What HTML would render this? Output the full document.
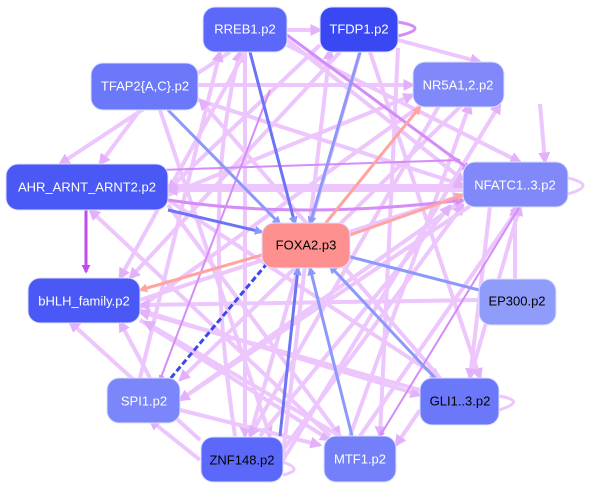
<!DOCTYPE html>
<html><head><meta charset="utf-8"><style>
body{margin:0;background:#fff}
svg{display:block}
text{font-family:"Liberation Sans",sans-serif;font-size:13px;text-anchor:middle;dominant-baseline:central}
</style></head><body>
<svg width="600" height="489" viewBox="0 0 600 489" xmlns="http://www.w3.org/2000/svg">
<defs>
<marker id="a" viewBox="0 0 10 10" refX="8" refY="5" markerWidth="3" markerHeight="3" orient="auto"><path d="M0,0L10,5L0,10z" fill="#e3b0fa"/></marker>
<marker id="b" viewBox="0 0 10 10" refX="8" refY="5" markerWidth="3" markerHeight="3" orient="auto"><path d="M0,0L10,5L0,10z" fill="#d68cf8"/></marker>
<marker id="c" viewBox="0 0 10 10" refX="8" refY="5" markerWidth="3" markerHeight="3" orient="auto"><path d="M0,0L10,5L0,10z" fill="#8d98fb"/></marker>
<marker id="d" viewBox="0 0 10 10" refX="8" refY="5" markerWidth="3" markerHeight="3" orient="auto"><path d="M0,0L10,5L0,10z" fill="#ffa4a0"/></marker>
<marker id="e" viewBox="0 0 10 10" refX="8" refY="5" markerWidth="3" markerHeight="3" orient="auto"><path d="M0,0L10,5L0,10z" fill="#3a48f0"/></marker>
<marker id="f" viewBox="0 0 10 10" refX="8" refY="5" markerWidth="3" markerHeight="3" orient="auto"><path d="M0,0L10,5L0,10z" fill="#c04af5"/></marker>
</defs>
<g fill="none" stroke-width="4" stroke="#ecc6fc" marker-end="url(#a)">
<path d="M245,52 L245,436"/><path d="M235,436 Q200,200 240,52"/>
<path d="M287,30 L320,30"/><path d="M360,52 L250,436"/>
<path d="M287,40 L463,180"/><path d="M287,45 L520,162"/>
<path d="M245,52 L120,278"/><path d="M230,52 L60,164"/>
<path d="M198,85 L413,85"/><path d="M198,100 L463,185"/>
<path d="M140,110 L100,164"/><path d="M160,110 L270,436"/>
<path d="M168,186 L463,186"/><path d="M168,200 L440,378"/>
<path d="M168,205 L340,436"/><path d="M168,195 L413,95"/>
<path d="M140,300 L463,195"/><path d="M140,310 L420,395"/>
<path d="M140,320 L330,440"/><path d="M120,322 L470,70"/>
<path d="M180,400 L463,200"/><path d="M180,410 L320,445"/>
<path d="M150,378 L120,322"/><path d="M140,378 L220,52"/>
<path d="M283,455 L330,50"/><path d="M283,460 L500,104"/>
<path d="M283,450 L463,205"/><path d="M350,436 L470,104"/>
<path d="M360,436 L520,206"/><path d="M340,436 L145,322"/>
<path d="M330,436 L90,210"/><path d="M420,390 L140,312"/>
<path d="M440,378 L200,100"/><path d="M470,378 L520,206"/>
<path d="M420,410 L396,445"/><path d="M479,300 L140,305"/>
<path d="M515,279 L515,206"/><path d="M398,40 L480,62"/>
<path d="M398,48 L380,436"/><path d="M340,52 L130,278"/>
<path d="M320,45 L168,190"/><path d="M370,52 L480,378"/>
<path d="M540,104 L545,162"/><path d="M463,104 L180,380"/>
<path d="M440,104 L250,436"/><path d="M463,190 L168,190"/>
<path d="M470,206 L180,400"/><path d="M490,206 L470,378"/>
<path d="M200,440 L70,322"/><path d="M200,460 L150,420"/>
<path d="M260,436 L450,206"/>
</g>
<g fill="none" stroke-width="3" stroke="#d68cf8" marker-end="url(#b)">
<path d="M168,200 Q300,220 463,200"/><path d="M270,90 L160,380" stroke-width="2"/>
<path d="M520,206 L380,436" stroke-width="2"/><path d="M160,170 L460,160" stroke-width="2"/>
<path d="M287,35 L470,170" stroke-width="3"/>
</g>
<path d="M86,210 L86,272" stroke="#c04af5" stroke-width="3" marker-end="url(#f)"/>
<g fill="none" stroke-width="3" stroke="#8d98fb" marker-end="url(#c)">
<path d="M168,110 L280,224"/><path d="M250,52 L295,224" stroke="#6a74f5"/>
<path d="M360,52 L310,224"/><path d="M479,290 L343,255"/>
<path d="M435,378 L330,266"/><path d="M352,436 L310,268"/>
<path d="M168,210 L262,232" stroke="#6a74f5"/><path d="M280,436 L298,268" stroke="#6a74f5"/>
</g>
<g fill="none" stroke-width="3" stroke="#ffa4a0" marker-end="url(#d)">
<path d="M325,224 L420,107"/><path d="M350,235 L463,195"/><path d="M262,255 L140,290"/>
</g>
<path d="M165,385 L275,254" stroke="#3a48f0" stroke-width="3" stroke-dasharray="6,3" marker-end="url(#e)"/>
<g fill="none" stroke-width="3" stroke="#d68cf8">
<path d="M398,22 Q432,28 398,36"/><path d="M568,178 Q598,185 568,194" stroke="#ecc6fc"/>
<path d="M499,396 Q528,401 499,410" stroke="#ecc6fc"/><path d="M283,462 Q305,470 283,475" stroke="#ecc6fc"/>
</g>
<g stroke="#dde0ff" stroke-width="1">
<rect x="203" y="7" width="84" height="45" rx="12" fill="#5b68fa"/>
<rect x="320" y="7" width="78" height="45" rx="12" fill="#3a48f3"/>
<rect x="91" y="63" width="107" height="47" rx="12" fill="#6c78fa"/>
<rect x="413" y="62" width="91" height="45" rx="12" fill="#8088fa"/>
<rect x="6" y="164" width="162" height="46" rx="12" fill="#4a58f5"/>
<rect x="463" y="162" width="105" height="45" rx="12" fill="#8088fa"/>
<rect x="262" y="223" width="88" height="45" rx="12" fill="#ff9090"/>
<rect x="28" y="278" width="112" height="45" rx="12" fill="#4a58f5"/>
<rect x="479" y="279" width="77" height="46" rx="12" fill="#8f9cfa"/>
<rect x="107" y="378" width="73" height="45" rx="12" fill="#7a86fa"/>
<rect x="420" y="378" width="79" height="47" rx="12" fill="#6c78fa"/>
<rect x="201" y="437" width="82" height="45" rx="12" fill="#5b68fa"/>
<rect x="324" y="436" width="72" height="46" rx="12" fill="#7480fa"/>
</g>
<g fill="#fff">
<text x="245" y="29">RREB1.p2</text><text x="359" y="29">TFDP1.p2</text>
<text x="145" y="86">TFAP2{A,C}.p2</text><text x="458" y="85">NR5A1,2.p2</text>
<text x="87" y="187">AHR_ARNT_ARNT2.p2</text><text x="515" y="185">NFATC1..3.p2</text>
<text x="84" y="301">bHLH_family.p2</text><text x="144" y="401">SPI1.p2</text>
<text x="360" y="459">MTF1.p2</text>
</g>
<g fill="#000">
<text x="306" y="245">FOXA2.p3</text><text x="517" y="301">EP300.p2</text>
<text x="460" y="401">GLI1..3.p2</text><text x="242" y="460">ZNF148.p2</text>
</g>
</svg>
</body></html>
